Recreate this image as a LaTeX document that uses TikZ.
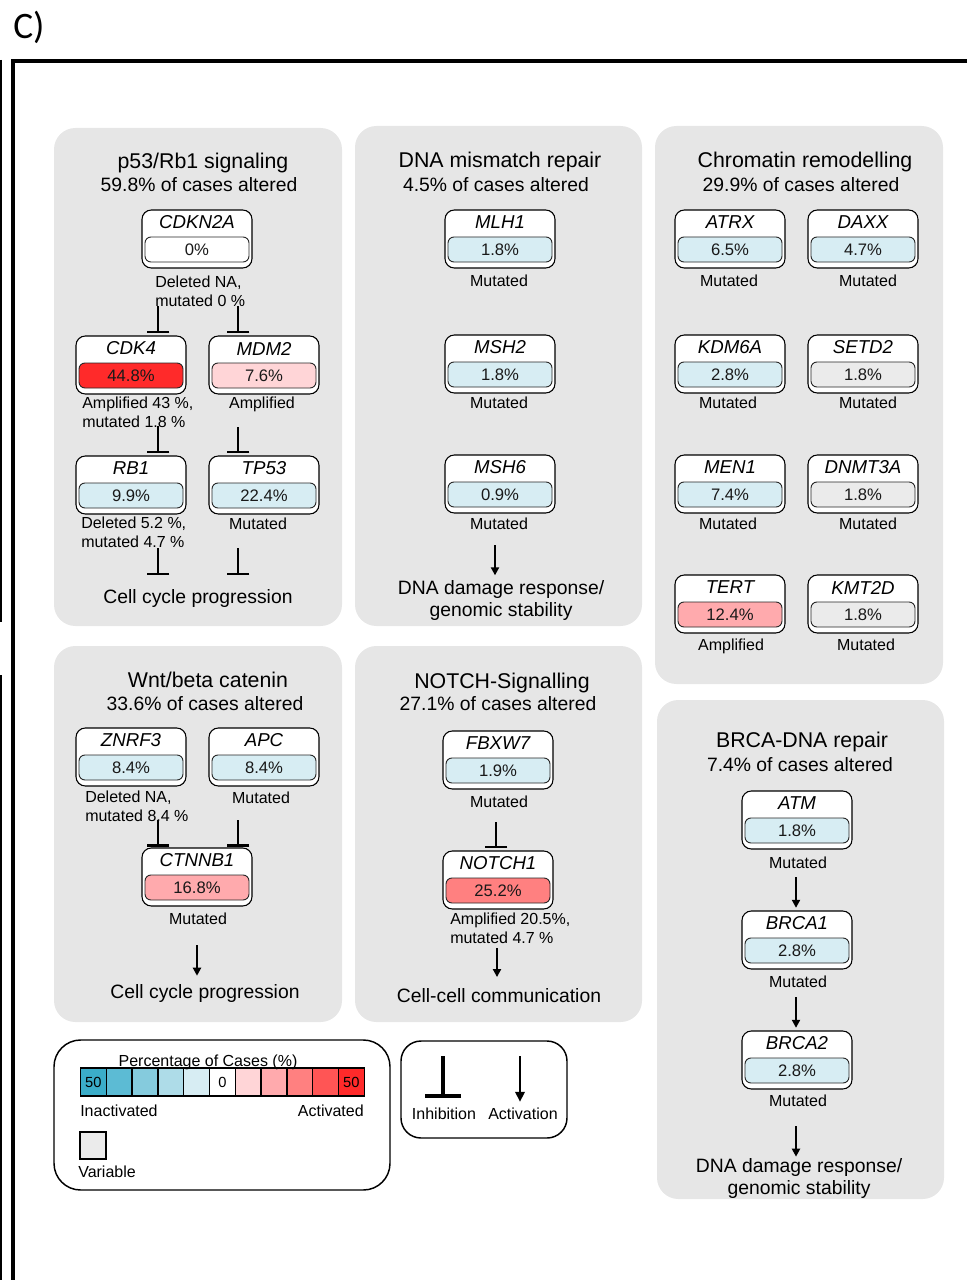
\documentclass[tikz,border=0pt]{standalone}
\usepackage{fontspec}
\setmainfont{Liberation Sans}
\newfontfamily\calfont{Carlito}
\usetikzlibrary{arrows.meta}

\definecolor{panelgray}{HTML}{E6E6E6}
\definecolor{varg}{HTML}{EBEBEB}
\definecolor{sA}{HTML}{3BADC9}
\definecolor{sB}{HTML}{5CBBD4}
\definecolor{sC}{HTML}{85CBDD}
\definecolor{sD}{HTML}{AEDCE8}
\definecolor{sE}{HTML}{D7EDF3}
\definecolor{sF}{HTML}{FFFFFF}
\definecolor{sG}{HTML}{FFD5D7}
\definecolor{sH}{HTML}{FFAAAD}
\definecolor{sI}{HTML}{FF8080}
\definecolor{sJ}{HTML}{FF5555}
\definecolor{sK}{HTML}{FF2A2A}

\tikzset{
  panel/.style={fill=panelgray, rounded corners=16pt},
  gbox/.style={draw=black, line width=0.8pt, fill=white, rounded corners=7pt,
    minimum width=82.5pt, minimum height=43.5pt, inner sep=0pt},
  gname/.style={font=\fontsize{14}{16}\selectfont\itshape, inner sep=0pt},
  gbar/.style={draw=black!85, line width=0.7pt, rounded corners=4.5pt,
    minimum width=78pt, minimum height=18.75pt, inner sep=0pt,
    font=\fontsize{12.5}{14}\selectfont, text=black!90},
  lab/.style={font=\fontsize{12}{14.25}\selectfont, inner sep=0pt, anchor=base},
  lab2/.style={font=\fontsize{12}{14.25}\selectfont, inner sep=0pt, align=left, anchor=north west},
  ptitle/.style={font=\fontsize{16}{18}\selectfont, inner sep=0pt, anchor=base},
  psub/.style={font=\fontsize{14.5}{17}\selectfont, inner sep=0pt, anchor=base},
  outcome/.style={font=\fontsize{14.5}{16.5}\selectfont, inner sep=0pt, align=center},
  inhib/.style={line width=2pt, -{Bar[width=17pt]}},
  activ/.style={line width=1.5pt, -{Triangle[length=6pt,width=6pt]}},
  scell/.style={draw=black, line width=1.1pt, minimum width=19.35pt, minimum height=21pt,
    inner sep=0pt, font=\fontsize{11}{12}\selectfont},
  legbox/.style={draw=black, line width=1.1pt, fill=white},
}

% gene box: id, centre x, top y, gene name, percentage, bar colour
\newcommand\gene[6]{%
  \node[gbox] (#1) at (#2,#3+29) {};
  \node[gname] (#1-name) at (#2,#3+12.5) {#4};
  \node[gbar,fill=#6] (#1-pct) at (#2,#3+39.5) {#5};
}

\begin{document}
\begin{tikzpicture}[x=0.75pt,y=-0.75pt]
\useasboundingbox (0,0) rectangle (967,1280);

% panel label and frame
\node[font=\calfont\fontsize{28}{30}\selectfont, anchor=base west, inner sep=0pt] (plabel) at (13,39) {C)};
\draw[line width=3pt, line join=miter] (967,61) -- (13,61) -- (13,1280);
\draw[line width=1.5pt] (1,60) -- (1,622);
\draw[line width=1.5pt] (1,675) -- (1,1280);

% pathway panels
\fill[panel] (54,128) rectangle (342,626);
\fill[panel] (355,126) rectangle (642,626);
\fill[panel] (655,126) rectangle (943,684);
\fill[panel] (54,646) rectangle (342,1022);
\fill[panel] (355,646) rectangle (642,1022);
\fill[panel] (657,700) rectangle (944,1199);

% ---------- p53/Rb1 signaling ----------
\node[ptitle] (t1) at (203,169) {p53/Rb1 signaling};
\node[psub] (s1) at (199,192) {59.8\% of cases altered};
\gene{cdkn2a}{197}{210}{CDKN2A}{0\%}{white}
\gene{cdk4}{131}{336}{CDK4}{44.8\%}{sK}
\gene{mdm2}{264}{336}{MDM2}{7.6\%}{sG}
\gene{rb1}{131}{456}{RB1}{9.9\%}{sE}
\gene{tp53}{264}{456}{TP53}{22.4\%}{sE}
\node[lab2] (cdkn2a-l) at (155,276) {Deleted NA,\\mutated 0 \%};
\node[lab2] (cdk4-l) at (82,397) {Amplified 43 \%,\\mutated 1.8 \%};
\node[lab] (mdm2-l) at (262,408) {Amplified};
\node[lab2] (rb1-l) at (81,517) {Deleted 5.2 \%,\\mutated 4.7 \%};
\node[lab] (tp53-l) at (258,529) {Mutated};
\node[outcome, anchor=base] (ccp1) at (198,603) {Cell cycle progression};
\coordinate (p1) at (158,306);
\coordinate (p2) at (238,306);
\coordinate (p3) at (158,426);
\coordinate (p4) at (238,427);
\coordinate (p5) at (158,548);
\coordinate (p6) at (238,548);
\draw[inhib, shorten >=1.5pt] (p1) -- (p1 |- cdk4.north);
\draw[inhib, shorten >=1.5pt] (p2) -- (p2 |- mdm2.north);
\draw[inhib, shorten >=1.5pt] (p3) -- (p3 |- rb1.north);
\draw[inhib, shorten >=1.5pt] (p4) -- (p4 |- tp53.north);
\draw[inhib, shorten >=10pt] (p5) -- (p5 |- ccp1.north);
\draw[inhib, shorten >=10pt] (p6) -- (p6 |- ccp1.north);

% ---------- DNA mismatch repair ----------
\node[ptitle] (t2) at (500,168) {DNA mismatch repair};
\node[psub] (s2) at (496,192) {4.5\% of cases altered};
\gene{mlh1}{500}{210}{MLH1}{1.8\%}{sE}
\gene{msh2}{500}{335}{MSH2}{1.8\%}{sE}
\gene{msh6}{500}{455}{MSH6}{0.9\%}{sE}
\node[lab] (mlh1-l) at (499,286) {Mutated};
\node[lab] (msh2-l) at (499,408) {Mutated};
\node[lab] (msh6-l) at (499,529) {Mutated};
\node[outcome, anchor=north] (ddr1) at (501,580) {DNA damage response/\\genomic stability};
\coordinate (m1) at (495,545);
\draw[activ, shorten >=3.5pt] (m1) -- (m1 |- ddr1.north);

% ---------- Chromatin remodelling ----------
\node[ptitle] (t3) at (805,168) {Chromatin remodelling};
\node[psub] (s3) at (801,192) {29.9\% of cases altered};
\gene{atrx}{730}{210}{ATRX}{6.5\%}{sE}
\gene{daxx}{863}{210}{DAXX}{4.7\%}{sE}
\gene{kdm6a}{730}{335}{KDM6A}{2.8\%}{sE}
\gene{setd2}{863}{335}{SETD2}{1.8\%}{varg}
\gene{men1}{730}{455}{MEN1}{7.4\%}{sE}
\gene{dnmt3a}{863}{455}{DNMT3A}{1.8\%}{varg}
\gene{tert}{730}{575}{TERT}{12.4\%}{sH}
\gene{kmt2d}{863}{575}{KMT2D}{1.8\%}{varg}
\node[lab] (atrx-l) at (729,286) {Mutated};
\node[lab] (daxx-l) at (868,286) {Mutated};
\node[lab] (kdm6a-l) at (728,408) {Mutated};
\node[lab] (setd2-l) at (868,408) {Mutated};
\node[lab] (men1-l) at (728,529) {Mutated};
\node[lab] (dnmt3a-l) at (868,529) {Mutated};
\node[lab] (tert-l) at (731,650) {Amplified};
\node[lab] (kmt2d-l) at (866,650) {Mutated};

% ---------- Wnt/beta catenin ----------
\node[ptitle] (t4) at (208,687) {Wnt/beta catenin};
\node[psub] (s4) at (205,710) {33.6\% of cases altered};
\gene{znrf3}{131}{728}{ZNRF3}{8.4\%}{sE}
\gene{apc}{264}{728}{APC}{8.4\%}{sE}
\gene{ctnnb1}{197}{848}{CTNNB1}{16.8\%}{sH}
\node[lab2] (znrf3-l) at (85,791) {Deleted NA,\\mutated 8.4 \%};
\node[lab] (apc-l) at (261,803) {Mutated};
\node[lab] (ctnnb1-l) at (198,924) {Mutated};
\node[outcome, anchor=base] (ccp2) at (205,998) {Cell cycle progression};
\coordinate (w1) at (158,820);
\coordinate (w2) at (238,820);
\coordinate (w3) at (197,945);
\draw[inhib, shorten >=0.5pt] (w1) -- (w1 |- ctnnb1.north);
\draw[inhib, shorten >=0.5pt] (w2) -- (w2 |- ctnnb1.north);
\draw[activ, shorten >=6pt] (w3) -- (w3 |- ccp2.north);

% ---------- NOTCH signalling ----------
\node[ptitle] (t5) at (502,688) {NOTCH-Signalling};
\node[psub] (s5) at (498,710) {27.1\% of cases altered};
\gene{fbxw7}{498}{731}{FBXW7}{1.9\%}{sE}
\gene{notch1}{498}{851}{NOTCH1}{25.2\%}{sI}
\node[lab] (fbxw7-l) at (499,807) {Mutated};
\node[lab2] (notch1-l) at (450,913) {Amplified 20.5\%,\\mutated 4.7 \%};
\node[outcome, anchor=base] (ccc) at (499,1002) {Cell-cell communication};
\coordinate (n1) at (496,822);
\coordinate (n2) at (497,948);
\draw[inhib, shorten >=1.5pt] (n1) -- (n1 |- notch1.north);
\draw[activ, shorten >=8pt] (n2) -- (n2 |- ccc.north);

% ---------- BRCA-DNA repair ----------
\node[ptitle] (t6) at (802,747) {BRCA-DNA repair};
\node[psub] (s6) at (800,771) {7.4\% of cases altered};
\gene{atm}{797}{791}{ATM}{1.8\%}{sE}
\gene{brca1}{797}{911}{BRCA1}{2.8\%}{sE}
\gene{brca2}{797}{1031}{BRCA2}{2.8\%}{sE}
\node[lab] (atm-l) at (798,868) {Mutated};
\node[lab] (brca1-l) at (798,987) {Mutated};
\node[lab] (brca2-l) at (798,1106) {Mutated};
\node[outcome, anchor=north] (ddr2) at (799,1158) {DNA damage response/\\genomic stability};
\coordinate (b1) at (796,877);
\coordinate (b2) at (796,997);
\coordinate (b3) at (796,1126);
\draw[activ, shorten >=2pt] (b1) -- (b1 |- brca1.north);
\draw[activ, shorten >=2pt] (b2) -- (b2 |- brca2.north);
\draw[activ, shorten >=1pt] (b3) -- (b3 |- ddr2.north);

% ---------- colour legend ----------
\draw[legbox, rounded corners=20pt] (54,1040) rectangle (390,1190);
\foreach \c [count=\i from 0] in {sA,sB,sC,sD,sE,sF,sG,sH,sI,sJ,sK}
  \node[scell, fill=\c] (cell\i) at (93.4+\i*25.8,1082) {};
\node[font=\fontsize{11}{12}\selectfont, inner sep=0pt] at (cell0) {50};
\node[font=\fontsize{11}{12}\selectfont, inner sep=0pt] at (cell5) {0};
\node[font=\fontsize{11}{12}\selectfont, inner sep=0pt] at (cell10) {50};
\node[lab] (pct) at (208,1066) {Percentage of Cases (\%)};
\node[lab, anchor=base west] (inact) at (80,1116) {Inactivated};
\node[lab, anchor=base east] (act) at (364,1116) {Activated};
\node[draw=black, line width=1.1pt, fill=varg, minimum width=19.5pt, minimum height=20pt, inner sep=0pt] (varsq) at (93,1145.5) {};
\node[lab, anchor=base west] (varl) at (78,1177) {Variable};

% ---------- symbol legend ----------
\draw[legbox, rounded corners=15pt] (401,1041) rectangle (567,1138);
\coordinate (li) at (443,1056);
\coordinate (la) at (520,1056);
\node[lab] (inhl) at (444,1119) {Inhibition};
\node[lab] (actl) at (523,1119) {Activation};
\draw[line width=2.6pt, -{Bar[width=27pt]}] (li) -- (li |- inhl.north) [shorten >=7pt];
\draw[line width=2pt, -{Triangle[length=7.5pt,width=7pt]}, shorten >=4pt] (la) -- (la |- actl.north);
\end{tikzpicture}
\end{document}
